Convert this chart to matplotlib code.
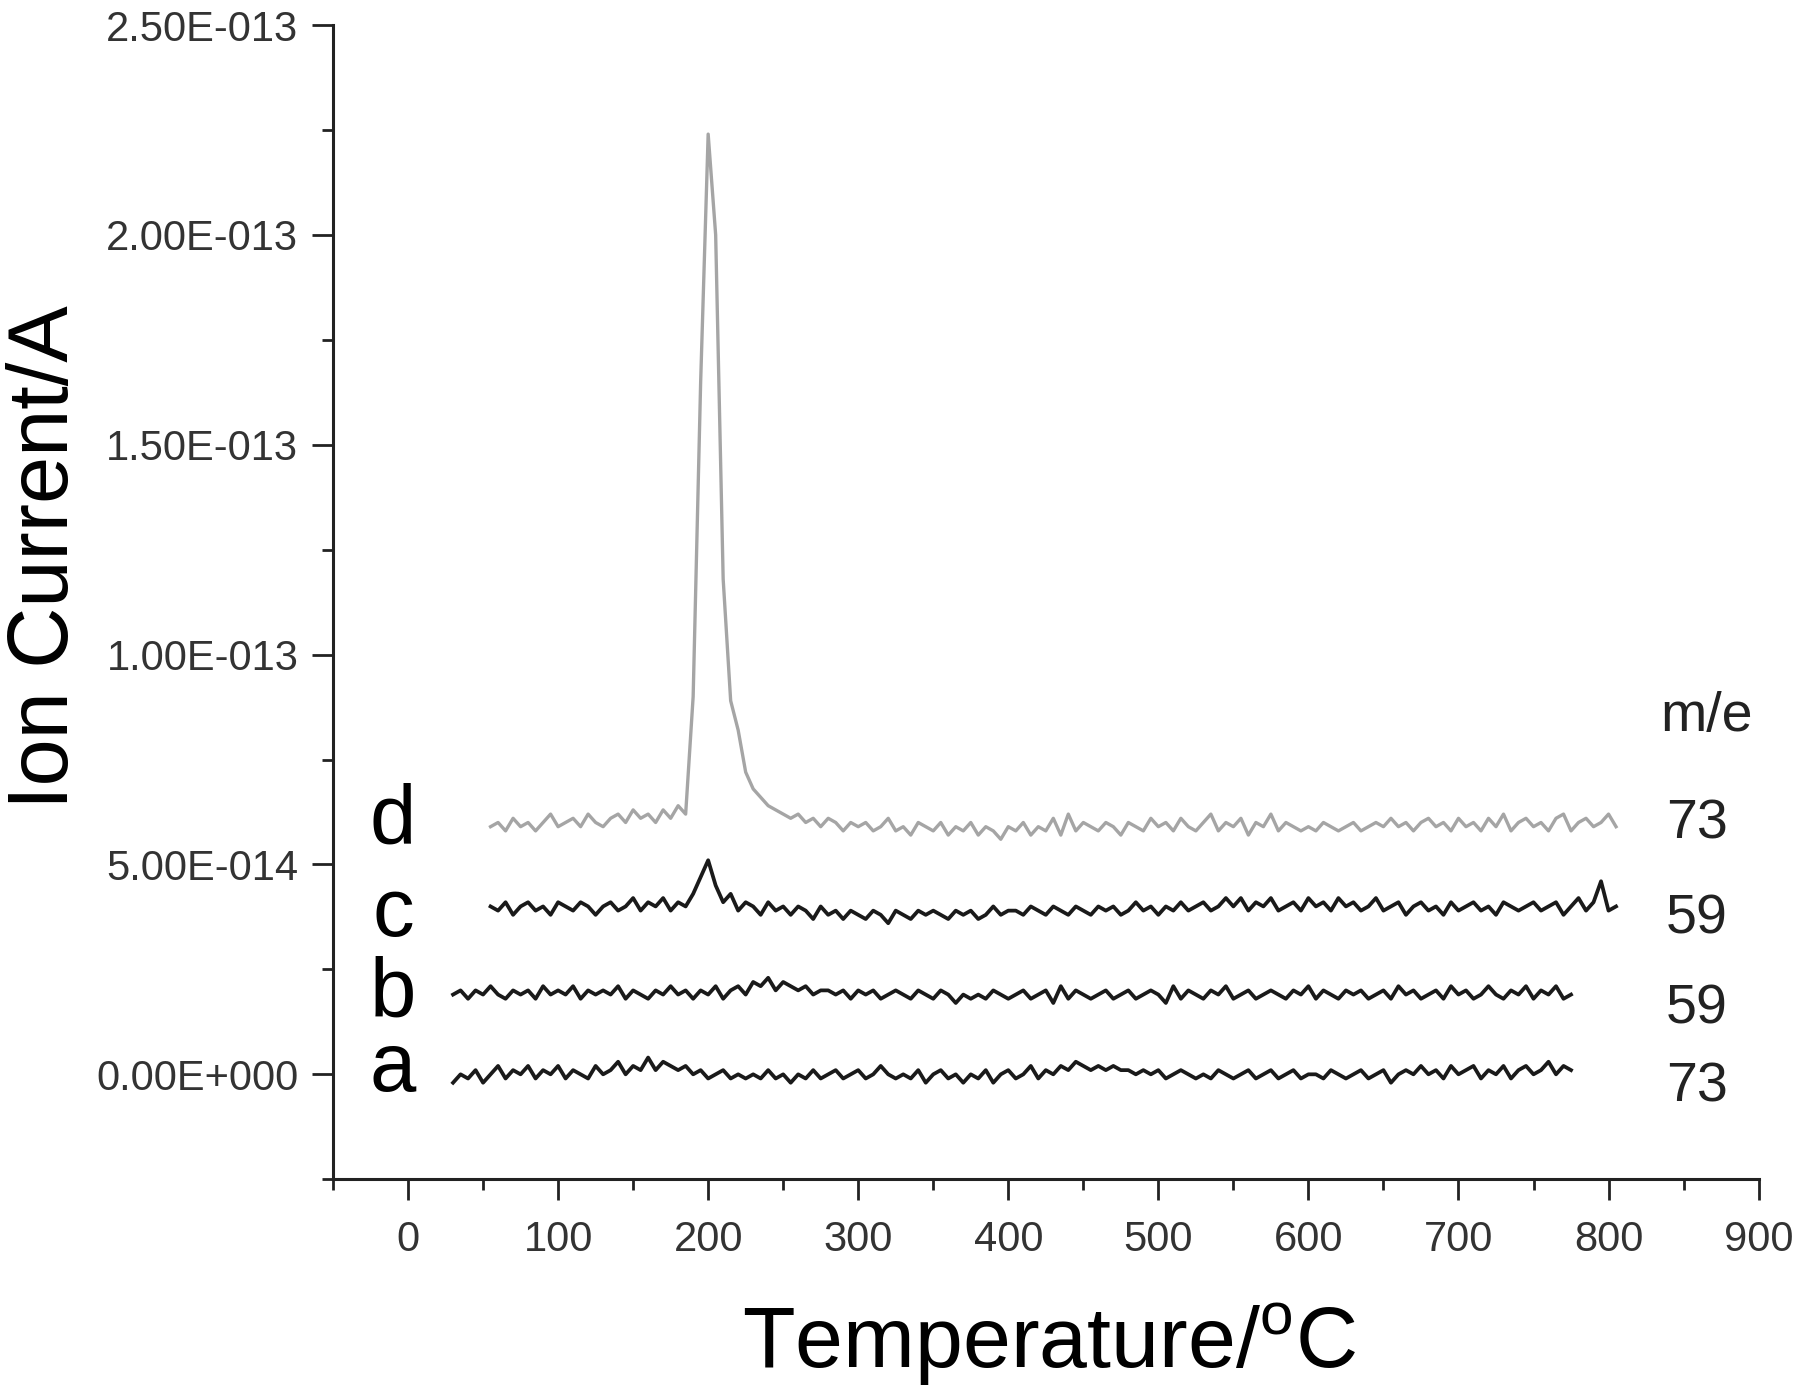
import numpy as np
import matplotlib
matplotlib.use("Agg")
import matplotlib.pyplot as plt
from matplotlib.ticker import MultipleLocator, FixedLocator, FixedFormatter

plt.rcParams['font.family'] = ['Liberation Sans', 'DejaVu Sans']

# Ion current traces, in units of 1e-14 A
# curves c and d: 55..805 C every 5 C; curves a and b: 30..775 C every 5 C
temp_cd = np.arange(55, 806, 5)
temp_ab = np.arange(30, 776, 5)

curve_d = [
    5.9, 6.0, 5.8, 6.1, 5.9, 6.0, 5.8, 6.0, 6.2, 5.9,
    6.0, 6.1, 5.9, 6.2, 6.0, 5.9, 6.1, 6.2, 6.0, 6.3,
    6.1, 6.2, 6.0, 6.3, 6.1, 6.4, 6.2,
    9.0, 16.5, 22.4, 20.0, 11.8, 8.9, 8.2, 7.2, 6.8, 6.6, 6.4, 6.3, 6.2,
    6.1, 6.2, 6.0, 6.1, 5.9, 6.1, 6.0, 5.8, 6.0, 5.9,
    6.0, 5.8, 5.9, 6.1, 5.8, 5.9, 5.7, 6.0, 5.9, 5.8,
    6.0, 5.7, 5.9, 5.8, 6.0, 5.7, 5.9, 5.8, 5.6, 5.9,
    5.8, 6.0, 5.7, 5.9, 5.8, 6.1, 5.7, 6.2, 5.8, 6.0,
    5.9, 5.8, 6.0, 5.9, 5.7, 6.0, 5.9, 5.8, 6.1, 5.9,
    6.0, 5.8, 6.1, 5.9, 5.8, 6.0, 6.2, 5.8, 6.0, 5.9,
    6.1, 5.7, 6.0, 5.9, 6.2, 5.8, 6.0, 5.9, 5.8, 5.9,
    5.8, 6.0, 5.9, 5.8, 5.9, 6.0, 5.8, 5.9, 6.0, 5.9,
    6.1, 5.9, 6.0, 5.8, 6.0, 6.1, 5.9, 6.0, 5.8, 6.1,
    5.9, 6.0, 5.8, 6.1, 5.9, 6.2, 5.8, 6.0, 6.1, 5.9,
    6.0, 5.8, 6.1, 6.2, 5.8, 6.0, 6.1, 5.9, 6.0, 6.2,
    5.9,
]

curve_c = [
    4.0, 3.9, 4.1, 3.8, 4.0, 4.1, 3.9, 4.0, 3.8, 4.1,
    4.0, 3.9, 4.1, 4.0, 3.8, 4.0, 4.1, 3.9, 4.0, 4.2,
    3.9, 4.1, 4.0, 4.2, 3.9, 4.1, 4.0,
    4.3, 4.7, 5.1, 4.5, 4.1, 4.3, 3.9, 4.1, 4.0, 3.8, 4.1, 3.9, 4.0,
    3.8, 4.0, 3.9, 3.7, 4.0, 3.8, 3.9, 3.7, 3.9, 3.8,
    3.7, 3.9, 3.8, 3.6, 3.9, 3.8, 3.7, 3.9, 3.8, 3.9,
    3.8, 3.7, 3.9, 3.8, 3.9, 3.7, 3.8, 4.0, 3.8, 3.9,
    3.9, 3.8, 4.0, 3.9, 3.8, 4.0, 3.9, 3.8, 4.0, 3.9,
    3.8, 4.0, 3.9, 4.0, 3.8, 3.9, 4.1, 3.9, 4.0, 3.8,
    4.0, 3.9, 4.1, 3.9, 4.0, 4.1, 3.9, 4.0, 4.2, 4.0,
    4.2, 3.9, 4.1, 4.0, 4.2, 3.9, 4.0, 4.1, 3.9, 4.2,
    4.0, 4.1, 3.9, 4.2, 4.0, 4.1, 3.9, 4.0, 4.2, 3.9,
    4.0, 4.1, 3.8, 4.0, 4.1, 3.9, 4.0, 3.8, 4.1, 3.9,
    4.0, 4.1, 3.9, 4.0, 3.8, 4.1, 4.0, 3.9, 4.0, 4.1,
    3.9, 4.0, 4.1, 3.8, 4.0, 4.2, 3.9, 4.1, 4.6, 3.9,
    4.0,
]

curve_b = [
    1.9, 2.0, 1.8, 2.0, 1.9, 2.1, 1.9, 1.8, 2.0, 1.9,
    2.0, 1.8, 2.1, 1.9, 2.0, 1.9, 2.1, 1.8, 2.0, 1.9,
    2.0, 1.9, 2.1, 1.8, 2.0, 1.9, 1.8, 2.0, 1.9, 2.1,
    1.9, 2.0, 1.8, 2.0, 1.9, 2.1, 1.8, 2.0, 2.1, 1.9,
    2.2, 2.1, 2.3, 2.0, 2.2, 2.1, 2.0, 2.1, 1.9, 2.0,
    2.0, 1.9, 2.0, 1.8, 2.0, 1.9, 2.0, 1.8, 1.9, 2.0,
    1.9, 1.8, 2.0, 1.9, 1.8, 2.0, 1.9, 1.7, 1.9, 1.8,
    1.9, 1.8, 2.0, 1.9, 1.8, 1.9, 2.0, 1.8, 1.9, 2.0,
    1.7, 2.1, 1.8, 2.0, 1.9, 1.8, 1.9, 2.0, 1.8, 1.9,
    2.0, 1.8, 1.9, 2.0, 1.9, 1.7, 2.1, 1.8, 2.0, 1.9,
    1.8, 2.0, 1.9, 2.1, 1.8, 1.9, 2.0, 1.8, 1.9, 2.0,
    1.9, 1.8, 2.0, 1.9, 2.1, 1.8, 2.0, 1.9, 1.8, 2.0,
    1.9, 2.0, 1.8, 1.9, 2.0, 1.8, 2.1, 1.9, 2.0, 1.8,
    1.9, 2.0, 1.8, 2.1, 1.9, 2.0, 1.8, 1.9, 2.1, 1.9,
    1.8, 2.0, 1.9, 2.1, 1.8, 2.0, 1.9, 2.1, 1.8, 1.9,
]

curve_a = [
    -0.2, 0.0, -0.1, 0.1, -0.2, 0.0, 0.2, -0.1, 0.1, 0.0,
    0.2, -0.1, 0.1, 0.0, 0.2, -0.1, 0.1, 0.0, -0.1, 0.2,
    0.0, 0.1, 0.3, 0.0, 0.2, 0.1, 0.4, 0.1, 0.3, 0.2,
    0.1, 0.2, 0.0, 0.1, -0.1, 0.0, 0.1, -0.1, 0.0, -0.1,
    0.0, -0.1, 0.1, -0.1, 0.0, -0.2, 0.0, -0.1, 0.1, -0.1,
    0.0, 0.1, -0.1, 0.0, 0.1, -0.1, 0.0, 0.2, 0.0, -0.1,
    0.0, -0.1, 0.1, -0.2, 0.0, 0.1, -0.1, 0.0, -0.2, 0.0,
    -0.1, 0.1, -0.2, 0.0, 0.1, -0.1, 0.0, 0.2, -0.1, 0.1,
    0.0, 0.2, 0.1, 0.3, 0.2, 0.1, 0.2, 0.1, 0.2, 0.1,
    0.1, 0.0, 0.1, 0.0, 0.1, -0.1, 0.0, 0.1, 0.0, -0.1,
    0.0, -0.1, 0.1, 0.0, -0.1, 0.0, 0.1, -0.1, 0.0, 0.1,
    -0.1, 0.0, 0.1, -0.1, 0.0, 0.0, -0.1, 0.1, 0.0, -0.1,
    0.0, 0.1, -0.1, 0.0, 0.1, -0.2, 0.0, 0.1, 0.0, 0.2,
    0.0, 0.1, -0.1, 0.2, 0.0, 0.1, 0.2, -0.1, 0.1, 0.0,
    0.2, -0.1, 0.1, 0.2, 0.0, 0.1, 0.3, 0.0, 0.2, 0.1,
]

curve_names = ['a', 'b', 'c', 'd']
mass_labels = ['73', '59', '59', '73']

ytick_vals = [0.0, 5e-14, 1e-13, 1.5e-13, 2e-13, 2.5e-13]
ytick_labels = ['0.00E+000', '5.00E-014', '1.00E-013', '1.50E-013', '2.00E-013', '2.50E-013']
xtick_vals = [0, 100, 200, 300, 400, 500, 600, 700, 800, 900]

fig = plt.figure(figsize=(18, 13.89), dpi=100)
ax = fig.add_axes([0.185, 0.151, 0.792, 0.831])

scale = 1e-14
dark = '#1a1a1a'
ax.plot(temp_ab, np.array(curve_a) * scale, color=dark, lw=2.7)
ax.plot(temp_ab, np.array(curve_b) * scale, color=dark, lw=2.7)
ax.plot(temp_cd, np.array(curve_c) * scale, color=dark, lw=2.7)
ax.plot(temp_cd, np.array(curve_d) * scale, color='#a5a5a5', lw=2.4)

ax.set_xlim(-50, 900)
ax.set_ylim(-2.5e-14, 2.5e-13)

ax.xaxis.set_major_locator(FixedLocator(xtick_vals))
ax.xaxis.set_minor_locator(MultipleLocator(50))
ax.yaxis.set_major_locator(FixedLocator(ytick_vals))
ax.yaxis.set_major_formatter(FixedFormatter(ytick_labels))
ax.yaxis.set_minor_locator(MultipleLocator(2.5e-14))

for s in ['top', 'right']:
    ax.spines[s].set_visible(False)
for s in ['left', 'bottom']:
    ax.spines[s].set_linewidth(2.2)
    ax.spines[s].set_color('#222222')

ax.tick_params(which='major', direction='out', length=15, width=2, color='#222222',
               labelsize=30, labelcolor='#333333')
ax.tick_params(which='minor', direction='out', length=8, width=2, color='#222222')
ax.tick_params(axis='y', pad=10)
ax.tick_params(axis='x', pad=14)

# curve letters on the left
letter_y = [-0.40, 1.38, 3.29, 5.50]
for name, yy in zip(curve_names, letter_y):
    ax.text(-10, yy * scale, name, fontsize=60, ha='center', va='baseline', color='black')

# m/e labels on the right
ax.text(865, 8.19 * scale, 'm/e', fontsize=40, ha='center', va='baseline', color='#222222')
mass_y = [-0.64, 1.21, 3.36, 5.62]
for lab, yy in zip(mass_labels, mass_y):
    ax.text(859, yy * scale, lab, fontsize=40, ha='center', va='baseline', color='#222222')

fig.text(0.0256, 0.599, 'Ion Current/A', rotation=90, fontsize=61,
         ha='center', va='center')
fig.text(0.583, 0.032, r'Temperature/$^\mathregular{o}$C', fontsize=62,
         ha='center', va='center')

fig.savefig('out.png', dpi=100)
